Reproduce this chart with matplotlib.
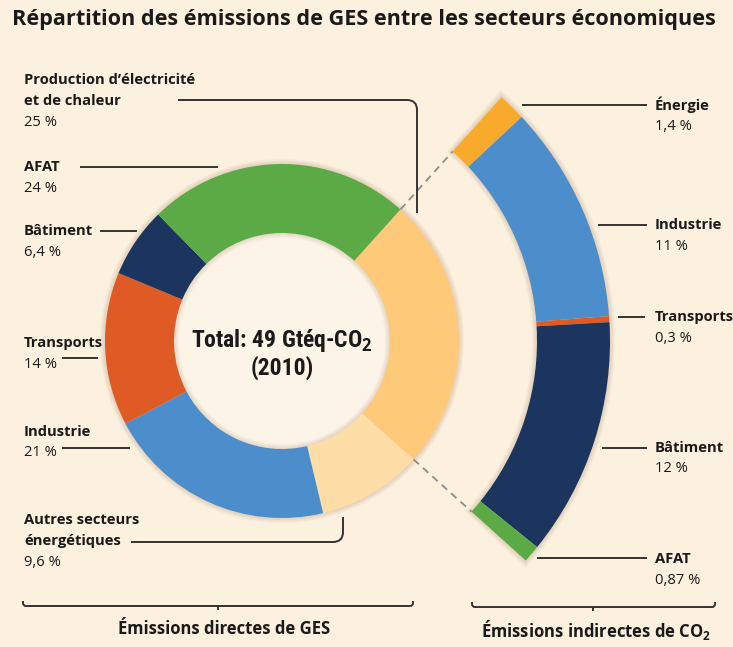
import matplotlib
matplotlib.use("Agg")
import matplotlib.pyplot as plt
from matplotlib.patches import Wedge, Circle, PathPatch
from matplotlib.path import Path
import numpy as np

W, H = 733, 647
BG = "#FCF0DF"
HOLE = "#FDF4E8"
LINE = "#333333"
TXT = "#1a1a1a"
SHADOW = "#8A6A40"

title = "Répartition des émissions de GES entre les secteurs économiques"
center_line1 = "Total: 49 Gtéq-CO"
center_line2 = "(2010)"
bottom_left = "Émissions directes de GES"
bottom_right = "Émissions indirectes de CO"

direct_labels = ["Production d’électricité\net de chaleur", "Autres secteurs\nénergétiques",
                 "Industrie", "Transports", "Bâtiment", "AFAT"]
direct_values = [25, 9.6, 21, 14, 6.4, 24]
direct_pct = ["25 %", "9,6 %", "21 %", "14 %", "6,4 %", "24 %"]
direct_colors = ["#FFC97A", "#FFDDA6", "#4C8DCB", "#E05A26", "#1C355E", "#5BAA46"]

indirect_labels = ["Énergie", "Industrie", "Transports", "Bâtiment", "AFAT"]
indirect_values = [1.4, 11, 0.3, 12, 0.87]
indirect_pct = ["1,4 %", "11 %", "0,3 %", "12 %", "0,87 %"]
indirect_colors = ["#F8AA2C", "#4C8DCB", "#E05A26", "#1C355E", "#5BAA46"]

FONT = "Open Sans"
CFONT = "Roboto Condensed"
plt.rcParams["font.family"] = [FONT, "DejaVu Sans"]
plt.rcParams["mathtext.fontset"] = "custom"
plt.rcParams["mathtext.bf"] = FONT + ":bold"
plt.rcParams["mathtext.rm"] = FONT

fig = plt.figure(figsize=(W / 100, H / 100), dpi=100, facecolor=BG)
ax = fig.add_axes([0, 0, 1, 1])
ax.set_facecolor(BG)

def Y(p):
    return H - p

cx, cy = 282, Y(341)
R_OUT, R_W = 177, 69
A_OUT, A_W = 328, 73
START = 48

def soft_shadow(r_out, width, t1, t2, n=5, alpha=0.045, full=False):
    rmid = r_out - width / 2
    for k in range(1, n + 1):
        dt = 0 if full else np.rad2deg(k / rmid)
        ax.add_patch(Wedge((cx, cy), r_out + k, t1 - dt, t2 + dt, width=width + 2 * k,
                           facecolor=SHADOW, edgecolor="none", alpha=alpha, zorder=0.5))

# shadows
soft_shadow(R_OUT, R_W, 0, 360, full=True)
span = 360 * direct_values[0] / sum(direct_values)
soft_shadow(A_OUT, A_W, START - span, START)

ax.pie(direct_values, colors=direct_colors, startangle=START, counterclock=False,
       radius=R_OUT, center=(cx, cy), wedgeprops=dict(width=R_W, linewidth=0, zorder=2), frame=False)
ax.add_patch(Circle((cx, cy), R_OUT - R_W, facecolor=HOLE, edgecolor="none", zorder=1))
for k in range(1, 6):
    ax.add_patch(Wedge((cx, cy), R_OUT - R_W, 0, 360, width=k, facecolor=SHADOW,
                       edgecolor="none", alpha=0.04, zorder=1.5))

tot = sum(indirect_values)
cur = START
for v, c in zip(indirect_values, indirect_colors):
    t1 = cur - v / tot * span
    ax.add_patch(Wedge((cx, cy), A_OUT, t1, cur, width=A_W, facecolor=c, edgecolor="none", zorder=2))
    cur = t1

# dashed connectors
for ang in [START, START - span]:
    a = np.deg2rad(ang)
    ax.plot([cx + R_OUT * np.cos(a), cx + (A_OUT - A_W) * np.cos(a)],
            [cy + R_OUT * np.sin(a), cy + (A_OUT - A_W) * np.sin(a)],
            color="#8C8C8C", lw=1.3, ls=(0, (4, 3)), zorder=3)

# center text
ax.text(cx, Y(341), center_line1 + r"$_\mathbf{2}$", ha="center", va="center",
        fontsize=17, fontweight="bold", color=TXT, family=[CFONT, "DejaVu Sans"])
ax.text(cx, Y(368), center_line2, ha="center", va="center",
        fontsize=17, fontweight="bold", color=TXT, family=[CFONT, "DejaVu Sans"])

# title
ax.text(12, Y(20), title, ha="left", va="center", fontsize=15.6, fontweight="bold", color=TXT)

LS = 21
LFS = 10.6

def label(x, ytop, name, pct):
    lines = name.split("\n")
    for i, ln in enumerate(lines):
        ax.text(x, Y(ytop + i * LS), ln, ha="left", va="center", fontsize=LFS,
                fontweight="bold", color=TXT)
    ax.text(x, Y(ytop + len(lines) * LS), pct, ha="left", va="center", fontsize=LFS,
            color=TXT)

left_y = {"Production d’électricité\net de chaleur": 80, "AFAT": 167, "Bâtiment": 231,
          "Transports": 343, "Industrie": 432, "Autres secteurs\nénergétiques": 520}
for n, p in zip(direct_labels, direct_pct):
    label(24, left_y[n], n, p)

right_y = [105, 225, 317, 448, 559]
for n, p, yy in zip(indirect_labels, indirect_pct, right_y):
    label(655, yy, n, p)

def seg(xs, ys):
    ax.plot(xs, [Y(v) for v in ys], color=LINE, lw=1.4, solid_capstyle="butt", zorder=4)

# left leader lines
seg([80, 218], [167, 167])
seg([100, 137], [231, 231])
seg([62, 98], [358, 358])
seg([62, 130], [448, 448])

def rounded(pts, r=10):
    verts = [(pts[0][0], Y(pts[0][1]))]
    codes = [Path.MOVETO]
    for i in range(1, len(pts) - 1):
        p0, p1, p2 = np.array(pts[i - 1], float), np.array(pts[i], float), np.array(pts[i + 1], float)
        d1 = (p1 - p0) / np.linalg.norm(p1 - p0)
        d2 = (p2 - p1) / np.linalg.norm(p2 - p1)
        a = p1 - d1 * r
        b = p1 + d2 * r
        verts += [(a[0], Y(a[1])), (p1[0], Y(p1[1])), (b[0], Y(b[1]))]
        codes += [Path.LINETO, Path.CURVE3, Path.CURVE3]
    verts.append((pts[-1][0], Y(pts[-1][1])))
    codes.append(Path.LINETO)
    ax.add_patch(PathPatch(Path(verts, codes), facecolor="none", edgecolor=LINE, lw=1.4, zorder=4))

rounded([(178, 100), (417, 100), (417, 213)])
rounded([(131, 542), (343, 542), (343, 517)])

# right leader lines
seg([522, 647], [105, 105])
seg([598, 647], [225, 225])
seg([618, 645], [317, 317])
seg([602, 647], [448, 448])
seg([537, 647], [558, 558])

# brackets
def bracket(x0, x1, yb, xm):
    rounded([(x0, yb - 5), (x0, yb), (x1, yb), (x1, yb - 5)], r=3)
    seg([xm, xm], [yb, yb + 4])

bracket(23, 413, 606, 218)
bracket(472, 715, 607, 593)

ax.text(224, Y(629), bottom_left, ha="center", va="center", fontsize=12, fontweight="bold", color=TXT)
ax.text(596, Y(630), bottom_right + r"$_\mathbf{2}$", ha="center", va="center", fontsize=12,
        fontweight="bold", color=TXT)

ax.set_xlim(0, W)
ax.set_ylim(0, H)
ax.set_aspect("equal")
ax.axis("off")
fig.savefig("out.png", dpi=100, facecolor=BG)
